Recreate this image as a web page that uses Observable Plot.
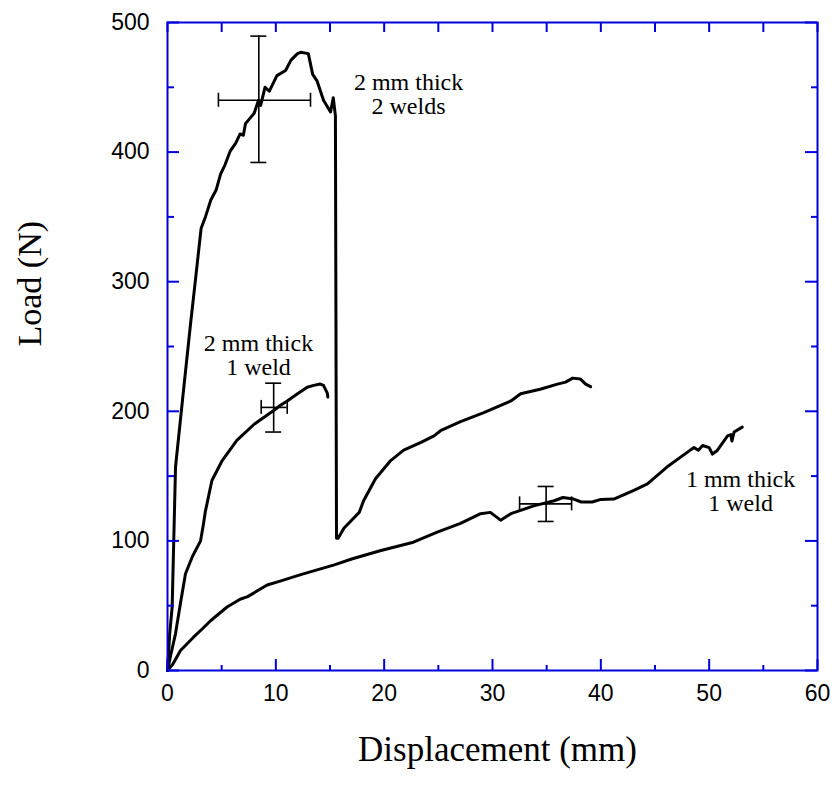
<!DOCTYPE html>
<html>
<head>
<meta charset="utf-8">
<script src="https://cdn.jsdelivr.net/npm/d3@7"></script>
<script src="https://cdn.jsdelivr.net/npm/@observablehq/plot@0.6"></script>
<style>
  html, body { margin: 0; padding: 0; background: #fff; }
  #chart svg { display: block; }
</style>
</head>
<body>
<div id="chart"></div>
<script>
// ---- Data ----
// 2 mm thick, 2 welds
const dispA = [0, 0.2, 0.43, 0.74, 1.4, 2.12, 2.6, 3.1, 3.5, 4.0, 4.5, 4.9, 5.3, 5.8, 6.3, 6.7, 7.0, 7.2, 7.7, 8.0, 8.4, 8.6, 9.0, 9.4, 10.1, 10.9, 11.4, 12.0, 12.3, 13.0, 13.4, 13.8, 14.4, 15.05, 15.3, 15.5, 15.6, 15.75, 16.3, 17.7, 18.1, 19.2, 20.6, 21.8, 23.4, 24.6, 25.2, 27.05, 29.2, 31.7, 32.6, 34.4, 36.0, 36.75, 37.4, 38.1, 38.6, 39.05];
const loadA = [0, 28, 49, 157, 210, 267, 303, 341, 350, 363, 371, 383, 390, 401, 407, 414, 413, 422, 427, 430, 440, 436, 450, 447, 459, 463, 471, 476, 477, 476, 460, 455, 440, 431, 442, 428, 102, 102, 110, 122, 131, 148, 162, 170, 176, 181, 185, 192, 199, 208, 213.5, 217, 221, 222.5, 225.6, 225, 221, 219];
// 2 mm thick, 1 weld
const dispB = [0, 0.3, 0.74, 1.2, 1.66, 2.3, 3.05, 3.3, 3.5, 4.1, 5.05, 6.4, 8.0, 9.8, 10.4, 11.05, 12.0, 12.9, 13.5, 14.1, 14.4, 14.75, 14.8];
const loadB = [0, 12, 28.5, 52, 74.6, 88, 100, 112, 123, 146.6, 162, 177.5, 190, 200.6, 204.5, 208, 213.5, 218.6, 220, 221, 220, 214, 211];
// 1 mm thick, 1 weld
const dispC = [0, 0.5, 1.2, 2.4, 3.2, 4.0, 5.5, 6.7, 7.4, 9.2, 10.4, 12.3, 15.4, 17, 19.7, 22.7, 24.9, 27.05, 28.9, 29.8, 30.75, 31.7, 33.8, 35.7, 36.5, 37.5, 38.2, 39.2, 40, 41.2, 43.05, 44.3, 46.1, 48.0, 48.6, 49.0, 49.4, 50.0, 50.3, 50.75, 51.7, 52.0, 52.1, 52.3, 53.05];
const loadC = [0, 5, 15.4, 25.7, 32, 38.6, 49, 55, 57, 66, 69, 74, 81.5, 86, 92.6, 99, 106.7, 113.5, 121, 122, 116, 121, 127, 131, 133.5, 132.3, 130, 130, 132, 132.3, 139, 144, 157, 168.5, 172, 170, 173.6, 172, 167, 169.8, 181, 182, 177, 184, 187.8];

// Error bars (centre, x range, y range)
const errX   = [8.43, 9.8, 34.95];
const errY   = [440, 203, 128.6];
const errXlo = [4.7, 8.65, 32.5];
const errXhi = [13.2, 11.05, 37.3];
const errYlo = [392, 184, 115];
const errYhi = [489.5, 221.7, 142];

// Annotations
const noteText = ["2 mm thick\n2 welds", "2 mm thick\n1 weld", "1 mm thick\n1 weld"];
const noteX = [22.25, 8.4, 52.9];
const noteY = [444.8, 243.4, 138.5];

// Ticks
const xTicks = [0, 10, 20, 30, 40, 50, 60];
const xMinor = [5, 15, 25, 35, 45, 55];
const yTicks = [0, 100, 200, 300, 400, 500];
const yMinor = [50, 150, 250, 350, 450];

// ---- Layout ----
const W = 832, H = 785;
const mL = 167, mR = 15, mT = 22, mB = 115;
const pxX = (W - mL - mR) / 60;   // px per mm
const pxY = (H - mT - mB) / 500;  // px per N
const lenX = px => px / pxX;      // pixel length -> mm
const lenY = px => px / pxY;      // pixel length -> N

const series = (xs, ys) => xs.map((x, i) => ({x, y: ys[i]}));
const A = series(dispA, loadA), B = series(dispB, loadB), C = series(dispC, loadC);
const err = errX.map((x, i) => ({x, y: errY[i], xlo: errXlo[i], xhi: errXhi[i], ylo: errYlo[i], yhi: errYhi[i]}));
const notes = noteText.map((t, i) => ({t, x: noteX[i], y: noteY[i]}));

const blue = "#0000dd";
const capH = lenY(7), capW = lenX(8);

const chart = Plot.plot({
  width: W, height: H,
  marginLeft: mL, marginRight: mR, marginTop: mT, marginBottom: mB,
  x: {domain: [0, 60], axis: null},
  y: {domain: [0, 500], axis: null},
  style: {background: "#fff"},
  marks: [
    // curves
    Plot.line(A, {x: "x", y: "y", stroke: "#000", strokeWidth: 3, strokeLinejoin: "round"}),
    Plot.line(B, {x: "x", y: "y", stroke: "#000", strokeWidth: 3, strokeLinejoin: "round"}),
    Plot.line(C, {x: "x", y: "y", stroke: "#000", strokeWidth: 3, strokeLinejoin: "round"}),
    // error bars
    Plot.ruleY(err, {y: "y", x1: "xlo", x2: "xhi", stroke: "#000", strokeWidth: 1.6}),
    Plot.ruleX(err, {x: "x", y1: "ylo", y2: "yhi", stroke: "#000", strokeWidth: 1.6}),
    Plot.ruleX(err, {x: "xlo", y1: d => d.y - capH, y2: d => d.y + capH, stroke: "#000", strokeWidth: 1.6}),
    Plot.ruleX(err, {x: "xhi", y1: d => d.y - capH, y2: d => d.y + capH, stroke: "#000", strokeWidth: 1.6}),
    Plot.ruleY(err, {y: "ylo", x1: d => d.x - capW, x2: d => d.x + capW, stroke: "#000", strokeWidth: 1.6}),
    Plot.ruleY(err, {y: "yhi", x1: d => d.x - capW, x2: d => d.x + capW, stroke: "#000", strokeWidth: 1.6}),
    // annotations
    Plot.text(notes, {x: "x", y: "y", text: "t", fontFamily: "Liberation Serif", fontSize: 24, lineHeight: 1, fill: "#000"}),
    // inward ticks: bottom & top
    Plot.ruleX(xTicks, {x: d => d, y1: 0, y2: lenY(11), stroke: blue, strokeWidth: 2}),
    Plot.ruleX(xMinor, {x: d => d, y1: 0, y2: lenY(5), stroke: blue, strokeWidth: 2}),
    Plot.ruleX(xTicks.concat(xMinor), {x: d => d, y1: 500, y2: 500 - lenY(10), stroke: blue, strokeWidth: 2}),
    // inward ticks: left & right
    Plot.ruleY(yTicks, {y: d => d, x1: 0, x2: lenX(12), stroke: blue, strokeWidth: 2}),
    Plot.ruleY(yMinor, {y: d => d, x1: 0, x2: lenX(7), stroke: blue, strokeWidth: 2}),
    Plot.ruleY(yTicks, {y: d => d, x1: 60, x2: 60 - lenX(12), stroke: blue, strokeWidth: 2}),
    Plot.ruleY(yMinor, {y: d => d, x1: 60, x2: 60 - lenX(6), stroke: blue, strokeWidth: 2}),
    Plot.frame({stroke: blue, strokeWidth: 2}),
    // tick labels
    Plot.text(xTicks, {x: d => d, y: 0, dy: 23, text: d => String(d), fontFamily: "Liberation Sans", fontSize: 23, fill: "#000"}),
    Plot.text(yTicks, {x: 0, y: d => d, dx: -18, textAnchor: "end", text: d => String(d), fontFamily: "Liberation Sans", fontSize: 23, fill: "#000"}),
    // axis titles
    Plot.text(["Displacement (mm)"], {frameAnchor: "bottom", dx: 5, dy: 90, text: d => d, fontFamily: "Liberation Serif", fontSize: 35, fill: "#000"}),
    Plot.text(["Load (N)"], {frameAnchor: "left", dx: -137, rotate: -90, text: d => d, fontFamily: "Liberation Serif", fontSize: 34, fill: "#000"})
  ]
});
document.getElementById("chart").appendChild(chart);
</script>
</body>
</html>
